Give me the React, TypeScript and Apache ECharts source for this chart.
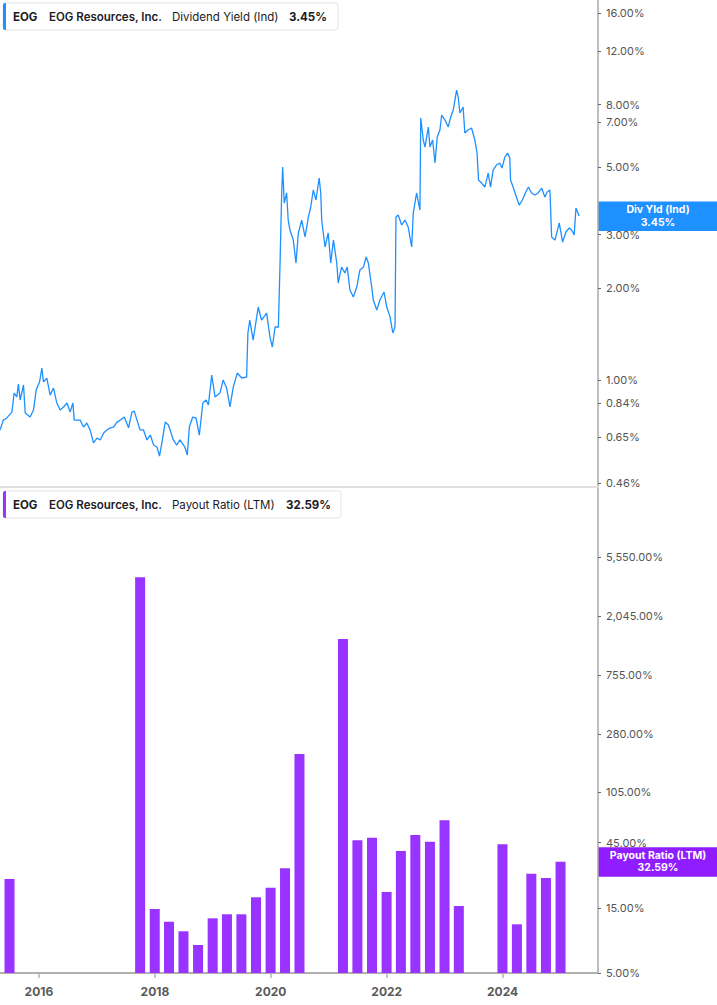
import React, { useEffect, useRef } from "react";
import * as echarts from "echarts";

const ticker = "EOG";
const company = "EOG Resources, Inc.";
const topMetric = "Dividend Yield (Ind)";
const bottomMetric = "Payout Ratio (LTM)";
const topBadge = "Div Yld (Ind)";

const divDates = [
  "2015-05-01","2015-05-22","2015-06-13","2015-07-15","2015-07-29","2015-08-15","2015-08-25","2015-09-05","2015-09-26","2015-10-07",
  "2015-11-07","2015-11-28","2015-12-15","2016-01-05","2016-01-20","2016-01-30","2016-02-20","2016-03-12","2016-04-02","2016-04-23",
  "2016-05-14","2016-06-04","2016-06-26","2016-07-16","2016-08-02","2016-08-11","2016-09-17","2016-10-08","2016-10-29","2016-11-19",
  "2016-12-10","2017-01-01","2017-01-22","2017-02-12","2017-03-05","2017-03-26","2017-04-16","2017-05-07","2017-05-28","2017-06-22",
  "2017-07-19","2017-08-09","2017-08-24","2017-09-10","2017-09-30","2017-10-21","2017-11-12","2017-12-03","2017-12-24","2018-01-14",
  "2018-01-30","2018-02-14","2018-03-07","2018-03-27","2018-04-11","2018-04-27","2018-05-18","2018-06-08","2018-07-09","2018-07-24",
  "2018-08-06","2018-08-27","2018-09-17","2018-10-08","2018-10-30","2018-11-19","2018-12-04","2018-12-25","2019-01-15","2019-02-15",
  "2019-03-07","2019-03-29","2019-04-19","2019-05-10","2019-06-04","2019-07-02","2019-08-02","2019-08-10","2019-08-22","2019-09-12",
  "2019-10-14","2019-11-04","2019-12-06","2019-12-27","2020-01-11","2020-01-28","2020-02-18","2020-02-28","2020-03-10","2020-03-16",
  "2020-03-26","2020-04-10","2020-04-20","2020-05-01","2020-05-22","2020-06-08","2020-06-23","2020-07-14","2020-08-04","2020-08-25",
  "2020-09-09","2020-09-25","2020-10-12","2020-11-01","2020-11-11","2020-11-17","2020-12-08","2020-12-28","2021-01-13","2021-01-30",
  "2021-02-20","2021-03-01","2021-03-22","2021-04-12","2021-04-27","2021-05-14","2021-06-04","2021-06-26","2021-07-16","2021-08-07",
  "2021-08-24","2021-09-07","2021-09-28","2021-10-08","2021-10-30","2021-11-19","2021-12-15","2022-01-01","2022-01-22","2022-02-08",
  "2022-02-22","2022-02-28","2022-03-14","2022-04-05","2022-04-26","2022-05-16","2022-06-07","2022-06-17","2022-07-08","2022-07-29",
  "2022-08-03","2022-08-19","2022-08-30","2022-09-20","2022-09-30","2022-10-17","2022-11-01","2022-11-15","2022-12-02","2022-12-13",
  "2023-01-03","2023-01-23","2023-02-08","2023-02-24","2023-03-17","2023-03-27","2023-04-07","2023-04-27","2023-05-08","2023-05-28",
  "2023-06-19","2023-07-10","2023-07-24","2023-08-02","2023-08-21","2023-09-11","2023-10-02","2023-10-17","2023-11-02","2023-11-23",
  "2023-12-14","2023-12-28","2024-01-15","2024-02-01","2024-02-15","2024-02-20","2024-03-07","2024-03-28","2024-04-14","2024-05-05",
  "2024-05-26","2024-06-12","2024-07-01","2024-07-22","2024-08-12","2024-09-03","2024-09-23","2024-10-08","2024-10-25","2024-11-05",
  "2024-11-26","2024-12-23","2025-01-13","2025-02-03","2025-02-24","2025-03-11","2025-03-27","2025-04-07","2025-04-27"
];

const divYield = [
  0.686,0.739,0.751,0.785,0.906,0.880,0.970,0.860,0.963,0.780,
  0.756,0.797,0.927,0.985,1.095,0.985,1.015,0.893,0.941,0.841,
  0.797,0.816,0.841,0.785,0.841,0.739,0.739,0.701,0.723,0.686,
  0.622,0.645,0.636,0.670,0.686,0.697,0.701,0.728,0.739,0.756,
  0.697,0.785,0.791,0.739,0.686,0.686,0.636,0.660,0.612,0.603,
  0.563,0.622,0.728,0.712,0.675,0.636,0.612,0.636,0.603,0.568,
  0.701,0.756,0.751,0.660,0.841,0.860,0.828,1.038,0.880,0.906,
  1.000,0.941,0.816,0.949,1.054,1.015,1.023,1.426,1.573,1.352,
  1.735,1.573,1.658,1.384,1.283,1.492,1.492,2.346,4.104,4.994,
  3.804,4.104,3.346,3.103,2.877,2.418,3.034,3.346,2.944,3.422,
  3.692,4.198,3.893,4.596,4.104,3.346,2.730,3.034,2.418,2.877,
  2.418,2.080,2.346,2.243,2.346,1.973,1.871,2.018,2.295,2.346,
  2.531,2.418,2.018,1.829,1.696,1.829,1.943,1.735,1.609,1.426,
  1.492,3.422,3.475,3.223,3.346,3.174,2.730,3.528,4.104,3.609,
  7.230,6.122,5.805,6.753,5.805,6.122,5.146,6.262,6.602,7.393,
  7.119,6.753,7.282,7.678,8.929,8.473,7.506,7.854,6.454,6.602,
  6.703,6.122,5.550,4.526,4.425,4.293,4.771,4.293,4.880,5.068,
  5.146,4.955,5.384,5.550,5.344,4.526,4.293,3.981,3.748,3.893,
  4.135,4.293,4.104,4.043,4.104,4.261,3.981,4.135,4.198,2.944,
  2.877,3.272,2.834,3.057,3.151,3.103,2.988,3.664,3.450
];

const payoutDates = [
  "2015-06-30","2017-09-30","2017-12-31","2018-03-31","2018-06-30","2018-09-30","2018-12-31",
  "2019-03-31","2019-06-30","2019-09-30","2019-12-31","2020-03-31","2020-06-30","2021-03-31",
  "2021-06-30","2021-09-30","2021-12-31","2022-03-31","2022-06-30","2022-09-30","2022-12-31",
  "2023-03-31","2023-12-31","2024-03-31","2024-06-30","2024-09-30","2024-12-31"
];
const payoutRatio = [
  24.4, 3945, 14.71, 11.87, 10.1, 8.02, 12.57,
  13.45, 13.45, 17.92, 21.06, 29.21, 200.6, 1393,
  46.8, 48.9, 19.6, 39.1, 51.2, 45.7, 65.6,
  15.47, 43.8, 11.36, 26.67, 24.8, 32.59
];

const topTicks = [16, 12, 8, 7, 5, 3, 2, 1, 0.84, 0.65, 0.46];
const bottomTicks = [5550, 2045, 755, 280, 105, 45, 15, 5];
const yearTicks = ["2016-01-01", "2018-01-01", "2020-01-01", "2022-01-01", "2024-01-01"];

const xMin = "2015-05-01";
const xMax = "2025-08-24";
const topMin = 0.4459;
const topMax = 17.62;
const botMin = 5;
const botMax = 17765;

const BLUE = "#1e90ff";
const PURPLE = "#9933ff";
const PURPLE_BADGE = "#8f1dff";
const FONT = "Inter, 'Noto Sans', sans-serif";

const LOG_BOT = Math.log10(botMin);
const ts = (d: string) => Date.parse(d + "T00:00:00Z");

function fmtPct(v: number) {
  return (
    v.toLocaleString("en-US", { minimumFractionDigits: 2, maximumFractionDigits: 2 }) + "%"
  );
}

function legendBox(y: number, w: number, color: string, metric: string, val: string, valX: number) {
  const cy = y + 13.5;
  const txt = (text: string, x: number, weight: string | number) => ({
    type: "text",
    x,
    y: cy,
    style: {
      text,
      fill: "#1b1b26",
      fontSize: 11.5,
      fontWeight: weight,
      fontFamily: FONT,
      align: "left",
      textAlign: "left",
      verticalAlign: "middle",
      textVerticalAlign: "middle",
    },
  });
  return {
    type: "group",
    children: [
      { type: "rect", shape: { x: 3, y, width: w, height: 27, r: 3 }, style: { fill: "#fff", stroke: "#e4e4e4", lineWidth: 1 } },
      { type: "rect", shape: { x: 3, y, width: 3, height: 27, r: [2, 0, 0, 2] }, style: { fill: color } },
      txt(ticker, 13, "bold"),
      txt(company, 49, 600),
      txt(metric, 172, 400),
      txt(val, valX, "bold"),
    ],
  };
}

function badge(cy: number, color: string, line1: string, line2: string) {
  const t = (text: string, y: number) => ({
    type: "text",
    x: 658,
    y,
    style: {
      text,
      fill: "#fff",
      fontSize: 10.5,
      fontWeight: "bold",
      fontFamily: FONT,
      align: "center",
      textAlign: "center",
      verticalAlign: "middle",
      textVerticalAlign: "middle",
    },
  });
  return {
    type: "group",
    children: [
      { type: "rect", shape: { x: 598, y: cy - 14.5, width: 119, height: 29.5 }, style: { fill: color } },
      t(line1, cy - 6.2),
      t(line2, cy + 6.2),
    ],
  };
}

export default function App() {
  const ref = useRef<HTMLDivElement>(null);

  useEffect(() => {
    document.body.style.margin = "0";
    const chart = echarts.init(ref.current!, null, { renderer: "svg" });
    const yearVals = yearTicks.map(ts);

    const option: any = {
      animation: false,
      backgroundColor: "#fff",
      grid: [
        { left: 0, top: 0, width: 598, height: 487 },
        { left: 0, top: 488, width: 598, height: 485 },
      ],
      xAxis: [
        {
          type: "value",
          gridIndex: 0,
          min: ts(xMin),
          max: ts(xMax),
          axisLine: { show: true, onZero: false, lineStyle: { color: "#e0e0e0", width: 2 } },
          axisTick: { show: false },
          axisLabel: { show: false },
          splitLine: { show: false },
        },
        {
          type: "value",
          gridIndex: 1,
          min: ts(xMin),
          max: ts(xMax),
          axisLine: { show: true, onZero: false, lineStyle: { color: "#b0b0b0", width: 2 } },
          axisTick: { show: true, customValues: yearVals, length: 5, lineStyle: { color: "#b0b0b0", width: 1.5 } },
          axisLabel: {
            show: true,
            customValues: yearVals,
            formatter: (v: number) => String(new Date(v).getUTCFullYear()),
            color: "#5a5a5a",
            fontWeight: "bold",
            fontSize: 12,
            fontFamily: FONT,
            margin: 12,
          },
          splitLine: { show: false },
        },
      ],
      yAxis: [
        {
          type: "value",
          gridIndex: 0,
          position: "right",
          min: Math.log10(topMin),
          max: Math.log10(topMax),
          axisLine: { show: true, onZero: false, lineStyle: { color: "#a8a8a8", width: 1.5 } },
          axisTick: { show: true, customValues: topTicks.map((t) => Math.log10(t)), length: 3, lineStyle: { color: "#666" } },
          axisLabel: {
            customValues: topTicks.map((t) => Math.log10(t)),
            formatter: (v: number) => fmtPct(Math.pow(10, v)),
            color: "#555",
            fontSize: 11,
            fontFamily: FONT,
            margin: 8,
          },
          splitLine: { show: false },
        },
        {
          type: "value",
          gridIndex: 1,
          position: "right",
          min: 0,
          max: Math.log10(botMax) - LOG_BOT,
          axisLine: { show: true, onZero: false, lineStyle: { color: "#a8a8a8", width: 1.5 } },
          axisTick: { show: true, customValues: bottomTicks.map((t) => Math.log10(t) - LOG_BOT), length: 3, lineStyle: { color: "#666" } },
          axisLabel: {
            customValues: bottomTicks.map((t) => Math.log10(t) - LOG_BOT),
            formatter: (v: number) => fmtPct(Math.pow(10, v + LOG_BOT)),
            color: "#555",
            fontSize: 11,
            fontFamily: FONT,
            margin: 8,
          },
          splitLine: { show: false },
        },
      ],
      series: [
        {
          type: "line",
          xAxisIndex: 0,
          yAxisIndex: 0,
          showSymbol: false,
          symbol: "none",
          data: divDates.map((d, i) => [ts(d), Math.log10(divYield[i])]),
          lineStyle: { color: BLUE, width: 1.3 },
          itemStyle: { color: BLUE },
        },
        {
          type: "bar",
          xAxisIndex: 1,
          yAxisIndex: 1,
          barWidth: 10,
          clip: true,
          data: payoutDates.map((d, i) => [ts(d), Math.log10(payoutRatio[i]) - LOG_BOT]),
          itemStyle: { color: PURPLE },
        },
      ],
    };

    chart.setOption(option);

    const lastDiv = divYield[divYield.length - 1];
    const lastPay = payoutRatio[payoutRatio.length - 1];
    const yTop = chart.convertToPixel({ yAxisIndex: 0 } as any, Math.log10(lastDiv)) as number;
    const yBot = chart.convertToPixel({ yAxisIndex: 1 } as any, Math.log10(lastPay) - LOG_BOT) as number;

    chart.setOption({
      graphic: [
        legendBox(3, 335, BLUE, topMetric, fmtPct(lastDiv), 289),
        legendBox(491, 338, PURPLE, bottomMetric, fmtPct(lastPay), 286),
        badge(yTop, BLUE, topBadge, fmtPct(lastDiv)),
        badge(yBot, PURPLE_BADGE, bottomMetric, fmtPct(lastPay)),
      ],
    });

    return () => chart.dispose();
  }, []);

  return <div ref={ref} style={{ width: 717, height: 1005 }} />;
}
